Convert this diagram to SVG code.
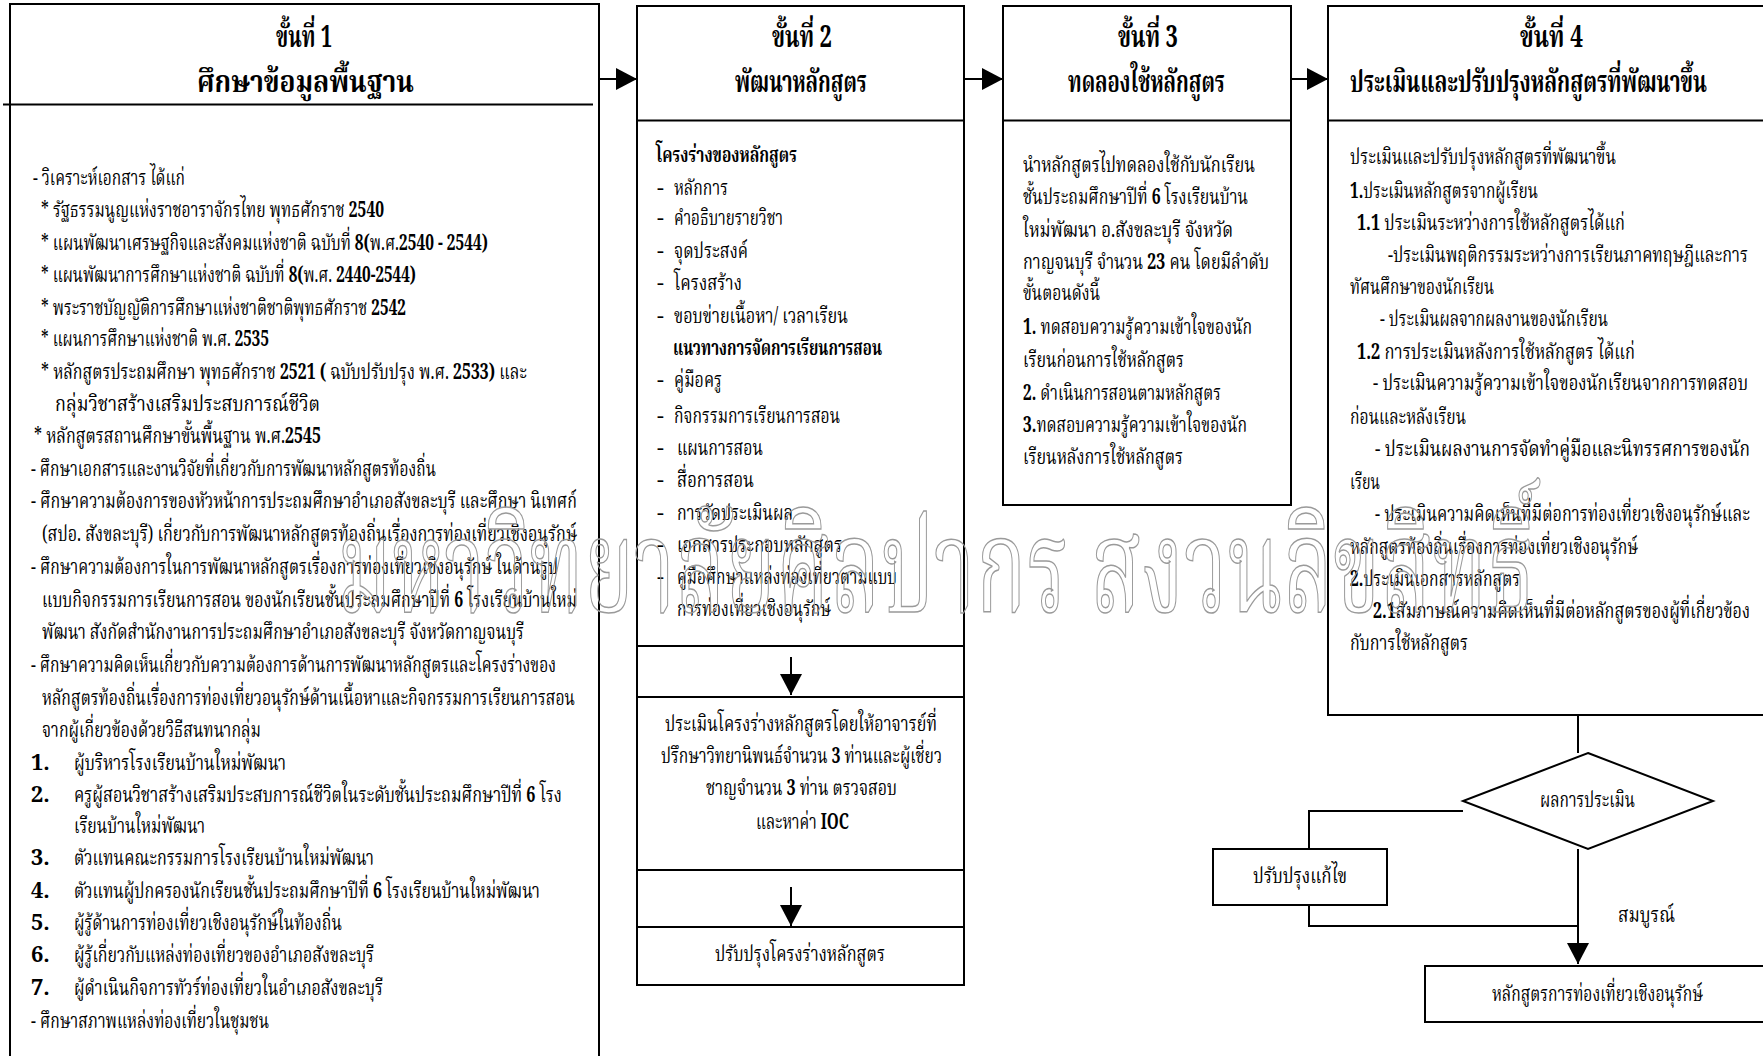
<svg xmlns="http://www.w3.org/2000/svg" width="1763" height="1056" viewBox="0 0 1763 1056">
<defs>
<style>
text{font-family:"Noto Serif Thai","Noto Sans Thai","Norasi","Kinnari","Laksaman","Garuda","Loma","Noto Sans","DejaVu Sans",sans-serif;font-size:22px;fill:#000}
.h{font-size:30px;font-weight:bold}
.b{font-weight:bold}
.n{font-weight:bold}
.box{fill:#fff;stroke:#000;stroke-width:2}
.ln{fill:none;stroke:#000;stroke-width:2}
.wm{font-size:130px;fill:none;stroke:#9a9a9a;stroke-width:1.5}
</style>
<marker id="ah" viewBox="0 0 21 22" refX="21" refY="11" markerWidth="21" markerHeight="22" markerUnits="userSpaceOnUse" orient="auto">
<path d="M0,0 L21,11 L0,22 Z" fill="#000"/>
</marker>
</defs>
<rect width="1763" height="1056" fill="#fff"/>

<g id="step1">
<path class="ln" d="M10,1060 V4 H599 V1060"/>
<line class="ln" x1="3" y1="104.5" x2="593" y2="104.5"/>
<text class="h" x="276" y="47" textLength="56" lengthAdjust="spacingAndGlyphs">ขั้นที่ 1</text>
<text class="h" x="197" y="92" textLength="217" lengthAdjust="spacingAndGlyphs">ศึกษาข้อมูลพื้นฐาน</text>
<text x="33" y="185" textLength="152" lengthAdjust="spacingAndGlyphs">- วิเคราะห์เอกสาร ได้แก่</text>
<text x="41" y="217" textLength="343" lengthAdjust="spacingAndGlyphs">* รัฐธรรมนูญแห่งราชอาราจักรไทย พุทธศักราช <tspan class="n">2540</tspan></text>
<text x="41" y="250" textLength="447" lengthAdjust="spacingAndGlyphs">* แผนพัฒนาเศรษฐกิจและสังคมแห่งชาติ ฉบับที่ <tspan class="n">8(</tspan>พ.ศ.<tspan class="n">2540 - 2544)</tspan></text>
<text x="41" y="282" textLength="375" lengthAdjust="spacingAndGlyphs">* แผนพัฒนาการศึกษาแห่งชาติ ฉบับที่ <tspan class="n">8(</tspan>พ.ศ. <tspan class="n">2440-2544)</tspan></text>
<text x="41" y="315" textLength="365" lengthAdjust="spacingAndGlyphs">* พระราชบัญญัติการศึกษาแห่งชาติชาติพุทธศักราช <tspan class="n">2542</tspan></text>
<text x="41" y="346" textLength="228" lengthAdjust="spacingAndGlyphs">* แผนการศึกษาแห่งชาติ พ.ศ. <tspan class="n">2535</tspan></text>
<text x="41" y="379" textLength="486" lengthAdjust="spacingAndGlyphs">* หลักสูตรประถมศึกษา  พุทธศักราช <tspan class="n">2521 (</tspan> ฉบับปรับปรุง พ.ศ. <tspan class="n">2533)</tspan> และ</text>
<text x="55" y="411" textLength="265" lengthAdjust="spacingAndGlyphs">กลุ่มวิชาสร้างเสริมประสบการณ์ชีวิต</text>
<text x="34" y="443" textLength="287" lengthAdjust="spacingAndGlyphs">* หลักสูตรสถานศึกษาขั้นพื้นฐาน พ.ศ.<tspan class="n">2545</tspan></text>
<text x="31" y="476" textLength="405" lengthAdjust="spacingAndGlyphs">- ศึกษาเอกสารและงานวิจัยที่เกี่ยวกับการพัฒนาหลักสูตรท้องถิ่น</text>
<text x="31" y="508" textLength="546" lengthAdjust="spacingAndGlyphs">- ศึกษาความต้องการของหัวหน้าการประถมศึกษาอำเภอสังขละบุรี และศึกษา  นิเทศก์</text>
<text x="42" y="541" textLength="535" lengthAdjust="spacingAndGlyphs">(สปอ. สังขละบุรี) เกี่ยวกับการพัฒนาหลักสูตรท้องถิ่นเรื่องการท่องเที่ยวเชิงอนุรักษ์</text>
<text x="31" y="574" textLength="527" lengthAdjust="spacingAndGlyphs">- ศึกษาความต้องการในการพัฒนาหลักสูตรเรื่องการท่องเที่ยวเชิงอนุรักษ์ ในด้านรูป</text>
<text x="42" y="607" textLength="535" lengthAdjust="spacingAndGlyphs">แบบกิจกรรมการเรียนการสอน ของนักเรียนชั้นประถมศึกษาปีที่ <tspan class="n">6</tspan> โรงเรียนบ้านใหม่</text>
<text x="42" y="639" textLength="482" lengthAdjust="spacingAndGlyphs">พัฒนา สังกัดสำนักงานการประถมศึกษาอำเภอสังขละบุรี  จังหวัดกาญจนบุรี</text>
<text x="31" y="672" textLength="525" lengthAdjust="spacingAndGlyphs">- ศึกษาความคิดเห็นเกี่ยวกับความต้องการด้านการพัฒนาหลักสูตรและโครงร่างของ</text>
<text x="42" y="705" textLength="533" lengthAdjust="spacingAndGlyphs">หลักสูตรท้องถิ่นเรื่องการท่องเที่ยวอนุรักษ์ด้านเนื้อหาและกิจกรรมการเรียนการสอน</text>
<text x="42" y="737" textLength="219" lengthAdjust="spacingAndGlyphs">จากผู้เกี่ยวข้องด้วยวิธีสนทนากลุ่ม</text>
<text class="n" x="31" y="770">1.</text>
<text x="74" y="770" textLength="212" lengthAdjust="spacingAndGlyphs">ผู้บริหารโรงเรียนบ้านใหม่พัฒนา</text>
<text class="n" x="31" y="802">2.</text>
<text x="74" y="802" textLength="488" lengthAdjust="spacingAndGlyphs">ครูผู้สอนวิชาสร้างเสริมประสบการณ์ชีวิตในระดับชั้นประถมศึกษาปีที่ <tspan class="n">6</tspan> โรง</text>
<text x="74" y="833" textLength="131" lengthAdjust="spacingAndGlyphs">เรียนบ้านใหม่พัฒนา</text>
<text class="n" x="31" y="865">3.</text>
<text x="74" y="865" textLength="300" lengthAdjust="spacingAndGlyphs">ตัวแทนคณะกรรมการโรงเรียนบ้านใหม่พัฒนา</text>
<text class="n" x="31" y="898">4.</text>
<text x="74" y="898" textLength="466" lengthAdjust="spacingAndGlyphs">ตัวแทนผู้ปกครองนักเรียนชั้นประถมศึกษาปีที่ <tspan class="n">6</tspan> โรงเรียนบ้านใหม่พัฒนา</text>
<text class="n" x="31" y="930">5.</text>
<text x="74" y="930" textLength="268" lengthAdjust="spacingAndGlyphs">ผู้รู้ด้านการท่องเที่ยวเชิงอนุรักษ์ในท้องถิ่น</text>
<text class="n" x="31" y="962">6.</text>
<text x="74" y="962" textLength="300" lengthAdjust="spacingAndGlyphs">ผู้รู้เกี่ยวกับแหล่งท่องเที่ยวของอำเภอสังขละบุรี</text>
<text class="n" x="31" y="995">7.</text>
<text x="74" y="995" textLength="309" lengthAdjust="spacingAndGlyphs">ผู้ดำเนินกิจการทัวร์ท่องเที่ยวในอำเภอสังขละบุรี</text>
<text x="31" y="1028" textLength="238" lengthAdjust="spacingAndGlyphs">- ศึกษาสภาพแหล่งท่องเที่ยวในชุมชน</text>
</g>

<g id="step2">
<rect class="box" x="637" y="6" width="327" height="979"/>
<line class="ln" x1="637" y1="120.5" x2="964" y2="120.5"/>
<line class="ln" x1="637" y1="646" x2="964" y2="646"/>
<line class="ln" x1="637" y1="697" x2="964" y2="697"/>
<line class="ln" x1="637" y1="870" x2="964" y2="870"/>
<line class="ln" x1="637" y1="927" x2="964" y2="927"/>
<text class="h" x="772" y="47" textLength="60" lengthAdjust="spacingAndGlyphs">ขั้นที่ 2</text>
<text class="h" x="735" y="92" textLength="132" lengthAdjust="spacingAndGlyphs">พัฒนาหลักสูตร</text>
<text class="b" x="656" y="162" textLength="141" lengthAdjust="spacingAndGlyphs">โครงร่างของหลักสูตร</text>
<text x="657" y="195">-</text><text x="674" y="195" textLength="54" lengthAdjust="spacingAndGlyphs">หลักการ</text>
<text x="657" y="225">-</text><text x="674" y="225" textLength="109" lengthAdjust="spacingAndGlyphs">คำอธิบายรายวิชา</text>
<text x="657" y="258">-</text><text x="674" y="258" textLength="74" lengthAdjust="spacingAndGlyphs">จุดประสงค์</text>
<text x="657" y="290">-</text><text x="674" y="290" textLength="68" lengthAdjust="spacingAndGlyphs">โครงสร้าง</text>
<text x="657" y="323">-</text><text x="674" y="323" textLength="174" lengthAdjust="spacingAndGlyphs">ขอบข่ายเนื้อหา/ เวลาเรียน</text>
<text class="b" x="673" y="355" textLength="209" lengthAdjust="spacingAndGlyphs">แนวทางการจัดการเรียนการสอน</text>
<text x="657" y="387">-</text><text x="674" y="387" textLength="48" lengthAdjust="spacingAndGlyphs">คู่มือครู</text>
<text x="657" y="423">-</text><text x="674" y="423" textLength="166" lengthAdjust="spacingAndGlyphs">กิจกรรมการเรียนการสอน</text>
<text x="657" y="455">-</text><text x="677" y="455" textLength="86" lengthAdjust="spacingAndGlyphs">แผนการสอน</text>
<text x="657" y="487">-</text><text x="677" y="487" textLength="77" lengthAdjust="spacingAndGlyphs">สื่อการสอน</text>
<text x="657" y="520">-</text><text x="677" y="520" textLength="116" lengthAdjust="spacingAndGlyphs">การวัดประเมินผล</text>
<text x="657" y="552">-</text><text x="677" y="552" textLength="165" lengthAdjust="spacingAndGlyphs">เอกสารประกอบหลักสูตร</text>
<text x="657" y="584">-</text><text x="677" y="584" textLength="220" lengthAdjust="spacingAndGlyphs">คู่มือศึกษาแหล่งท่องเที่ยวตามแบบ</text>
<text x="677" y="616" textLength="154" lengthAdjust="spacingAndGlyphs">การท่องเที่ยวเชิงอนุรักษ์</text>
</g>

<g id="review">
<text x="665" y="731" textLength="272" lengthAdjust="spacingAndGlyphs">ประเมินโครงร่างหลักสูตรโดยให้อาจารย์ที่</text>
<text x="661" y="763" textLength="281" lengthAdjust="spacingAndGlyphs">ปรึกษาวิทยานิพนธ์จำนวน <tspan class="n">3</tspan> ท่านและผู้เชี่ยว</text>
<text x="706" y="795" textLength="191" lengthAdjust="spacingAndGlyphs">ชาญจำนวน <tspan class="n">3</tspan> ท่าน  ตรวจสอบ</text>
<text x="756" y="829" textLength="93" lengthAdjust="spacingAndGlyphs">และหาค่า <tspan class="n">IOC</tspan></text>
</g>

<g id="revise-draft">
<text x="715" y="961" textLength="170" lengthAdjust="spacingAndGlyphs">ปรับปรุงโครงร่างหลักสูตร</text>
</g>

<g id="step3">
<rect class="box" x="1003" y="6" width="288" height="499"/>
<line class="ln" x1="1003" y1="120.5" x2="1291" y2="120.5"/>
<text class="h" x="1118" y="47" textLength="60" lengthAdjust="spacingAndGlyphs">ขั้นที่ 3</text>
<text class="h" x="1068" y="92" textLength="157" lengthAdjust="spacingAndGlyphs">ทดลองใช้หลักสูตร</text>
<text x="1023" y="172" textLength="232" lengthAdjust="spacingAndGlyphs">นำหลักสูตรไปทดลองใช้กับนักเรียน</text>
<text x="1023" y="204" textLength="225" lengthAdjust="spacingAndGlyphs">ชั้นประถมศึกษาปีที่ <tspan class="n">6</tspan> โรงเรียนบ้าน</text>
<text x="1023" y="237" textLength="210" lengthAdjust="spacingAndGlyphs">ใหม่พัฒนา  อ.สังขละบุรี  จังหวัด</text>
<text x="1023" y="269" textLength="246" lengthAdjust="spacingAndGlyphs">กาญจนบุรี  จำนวน  <tspan class="n">23</tspan> คน โดยมีลำดับ</text>
<text x="1023" y="300" textLength="77" lengthAdjust="spacingAndGlyphs">ขั้นตอนดังนี้</text>
<text x="1023" y="334" textLength="229" lengthAdjust="spacingAndGlyphs"><tspan class="n">1.</tspan> ทดสอบความรู้ความเข้าใจของนัก</text>
<text x="1023" y="367" textLength="161" lengthAdjust="spacingAndGlyphs">เรียนก่อนการใช้หลักสูตร</text>
<text x="1023" y="400" textLength="198" lengthAdjust="spacingAndGlyphs"><tspan class="n">2.</tspan> ดำเนินการสอนตามหลักสูตร</text>
<text x="1023" y="432" textLength="224" lengthAdjust="spacingAndGlyphs"><tspan class="n">3.</tspan>ทดสอบความรู้ความเข้าใจของนัก</text>
<text x="1023" y="464" textLength="160" lengthAdjust="spacingAndGlyphs">เรียนหลังการใช้หลักสูตร</text>
</g>

<g id="step4">
<path class="ln" d="M1765,6 H1328 V715 H1765"/>
<line class="ln" x1="1328" y1="120.5" x2="1765" y2="120.5"/>
<text class="h" x="1520" y="47" textLength="63" lengthAdjust="spacingAndGlyphs">ขั้นที่ 4</text>
<text class="h" x="1350" y="92" textLength="357" lengthAdjust="spacingAndGlyphs">ประเมินและปรับปรุงหลักสูตรที่พัฒนาขึ้น</text>
<text x="1350" y="164" textLength="266" lengthAdjust="spacingAndGlyphs">ประเมินและปรับปรุงหลักสูตรที่พัฒนาขึ้น</text>
<text x="1350" y="198" textLength="188" lengthAdjust="spacingAndGlyphs"><tspan class="n">1.</tspan>ประเมินหลักสูตรจากผู้เรียน</text>
<text x="1357" y="230" textLength="268" lengthAdjust="spacingAndGlyphs"><tspan class="n">1.1</tspan> ประเมินระหว่างการใช้หลักสูตรได้แก่</text>
<text x="1388" y="262" textLength="360" lengthAdjust="spacingAndGlyphs">-ประเมินพฤติกรรมระหว่างการเรียนภาคทฤษฎีและการ</text>
<text x="1350" y="294" textLength="144" lengthAdjust="spacingAndGlyphs">ทัศนศึกษาของนักเรียน</text>
<text x="1380" y="326" textLength="228" lengthAdjust="spacingAndGlyphs">- ประเมินผลจากผลงานของนักเรียน</text>
<text x="1357" y="359" textLength="278" lengthAdjust="spacingAndGlyphs"><tspan class="n">1.2</tspan> การประเมินหลังการใช้หลักสูตร  ได้แก่</text>
<text x="1373" y="390" textLength="375" lengthAdjust="spacingAndGlyphs">-  ประเมินความรู้ความเข้าใจของนักเรียนจากการทดสอบ</text>
<text x="1350" y="424" textLength="116" lengthAdjust="spacingAndGlyphs">ก่อนและหลังเรียน</text>
<text x="1375" y="456" textLength="375" lengthAdjust="spacingAndGlyphs">-  ประเมินผลงานการจัดทำคู่มือและนิทรรศการของนัก</text>
<text x="1350" y="489" textLength="30" lengthAdjust="spacingAndGlyphs">เรียน</text>
<text x="1375" y="521" textLength="375" lengthAdjust="spacingAndGlyphs">-  ประเมินความคิดเห็นที่มีต่อการท่องเที่ยวเชิงอนุรักษ์และ</text>
<text x="1350" y="554" textLength="288" lengthAdjust="spacingAndGlyphs">หลักสูตรท้องถิ่นเรื่องการท่องเที่ยวเชิงอนุรักษ์</text>
<text x="1350" y="586" textLength="170" lengthAdjust="spacingAndGlyphs"><tspan class="n">2.</tspan>ประเมินเอกสารหลักสูตร</text>
<text x="1373" y="618" textLength="377" lengthAdjust="spacingAndGlyphs"><tspan class="n">2.1</tspan>สัมภาษณ์ความคิดเห็นที่มีต่อหลักสูตรของผู้ที่เกี่ยวข้อง</text>
<text x="1350" y="650" textLength="118" lengthAdjust="spacingAndGlyphs">กับการใช้หลักสูตร</text>
</g>

<g id="decision">
<polygon class="box" points="1588,753 1713,801 1588,849 1463,801"/>
<text x="1540" y="807" textLength="95" lengthAdjust="spacingAndGlyphs">ผลการประเมิน</text>
</g>

<g id="fix">
<rect class="box" x="1213" y="849" width="174" height="56"/>
<text x="1253" y="883" textLength="94" lengthAdjust="spacingAndGlyphs">ปรับปรุงแก้ไข</text>
</g>

<g id="result">
<path class="ln" d="M1765,966 H1425 V1022 H1765"/>
<text x="1492" y="1001" textLength="211" lengthAdjust="spacingAndGlyphs">หลักสูตรการท่องเที่ยวเชิงอนุรักษ์</text>
</g>

<g id="connectors">
<line class="ln" x1="599" y1="79" x2="637" y2="79" marker-end="url(#ah)"/>
<line class="ln" x1="964" y1="79" x2="1003" y2="79" marker-end="url(#ah)"/>
<line class="ln" x1="1291" y1="79" x2="1328" y2="79" marker-end="url(#ah)"/>
<line class="ln" x1="791" y1="657" x2="791" y2="695" marker-end="url(#ah)"/>
<line class="ln" x1="791" y1="887" x2="791" y2="926" marker-end="url(#ah)"/>
<line class="ln" x1="1578" y1="715" x2="1578" y2="753"/>
<polyline class="ln" points="1463,811 1309,811 1309,849"/>
<polyline class="ln" points="1309,905 1309,926 1578,926"/>
<line class="ln" x1="1578" y1="849" x2="1578" y2="964" marker-end="url(#ah)"/>
<text x="1618" y="922" textLength="57" lengthAdjust="spacingAndGlyphs">สมบูรณ์</text>
</g>

<text class="wm" x="337" y="612" textLength="1198" lengthAdjust="spacingAndGlyphs">มหาวิทยาลัยศิลปากร สงวนลิขสิทธิ์</text>
</svg>
